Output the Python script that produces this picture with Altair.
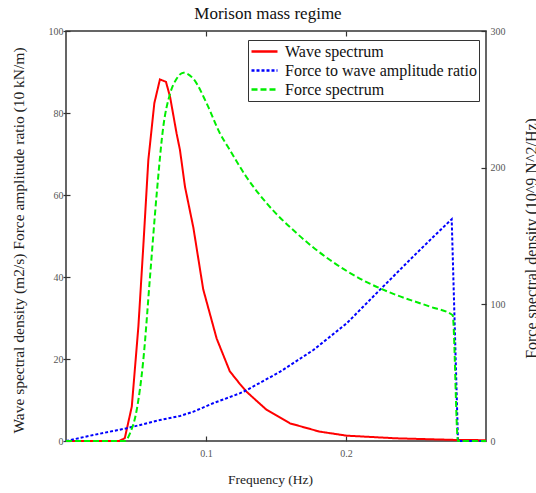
import altair as alt
import pandas as pd

FONT = "Liberation Serif"

# Wave spectrum (left axis, m2/s)
wave_f = [0, 0.038, 0.042, 0.047, 0.0517, 0.0552, 0.0588, 0.0631, 0.0671, 0.0714,
          0.0743, 0.079, 0.0814, 0.085, 0.091, 0.098, 0.1076, 0.117, 0.124, 0.129,
          0.1433, 0.16, 0.181, 0.2005, 0.236, 0.279, 0.3]
wave_v = [0, 0, 0.7, 8.4, 27.9, 47.4, 68.5, 82.4, 88.2, 87.6,
          84, 75, 71, 62, 52, 37, 25, 17, 14, 12,
          7.6, 4.3, 2.3, 1.3, 0.65, 0.25, 0.2]

# Force to wave amplitude ratio (left axis, 10 kN/m)
ratio_f = [0, 0.0195, 0.0433, 0.067, 0.0814, 0.091, 0.105, 0.124, 0.129, 0.153,
           0.1767, 0.2005, 0.224, 0.248, 0.2624, 0.2755, 0.28, 0.3]
ratio_v = [0, 1.46, 3.1, 5.1, 6.1, 7.15, 9.2, 11.6, 12.4, 16.9,
           22.2, 28.7, 36.8, 45, 49.8, 54.1, 0, 0]

# Force spectrum (right axis, 10^9 N^2/Hz)
force_f = [0, 0.042, 0.0457, 0.0505, 0.0552, 0.06, 0.0648, 0.0695, 0.0743, 0.079,
           0.0838, 0.091, 0.1005, 0.11, 0.117, 0.129, 0.1433, 0.1648, 0.1886, 0.2119,
           0.236, 0.26, 0.2762, 0.28, 0.3]
force_v = [0, 0, 5.6, 22.7, 59, 120, 181, 230, 254, 265,
           269.5, 265, 247, 225, 213, 193, 174, 152, 132.4, 117.8,
           106.8, 98.3, 92, 0, 0]

series_names = ["Wave spectrum", "Force to wave amplitude ratio", "Force spectrum"]
series_colors = ["#ff0000", "#0000ff", "#00ee00"]
series_dashes = [[1, 0], [3, 2], [6, 3]]

left_df = pd.concat([
    pd.DataFrame({"f": wave_f, "v": wave_v, "series": series_names[0], "o": range(len(wave_f))}),
    pd.DataFrame({"f": ratio_f, "v": ratio_v, "series": series_names[1], "o": range(len(ratio_f))}),
])
right_df = pd.DataFrame({"f": force_f, "v": force_v, "series": series_names[2], "o": range(len(force_f))})

xdom = [0, 0.3]

color = alt.Color("series:N", scale=alt.Scale(domain=series_names, range=series_colors),
                  legend=alt.Legend(title=None))
dash = alt.StrokeDash("series:N", scale=alt.Scale(domain=series_names, range=series_dashes),
                      legend=alt.Legend(title=None))

left = alt.Chart(left_df).mark_line(strokeWidth=2).encode(
    x=alt.X("f:Q", scale=alt.Scale(domain=xdom, nice=False),
            axis=alt.Axis(orient="bottom", values=[0.1, 0.2], title="Frequency (Hz)",
                          offset=-5, tickSize=5, domain=False, labelPadding=7,
                          titlePadding=14, grid=False, titleX=204, titleAlign="center")),
    y=alt.Y("v:Q", scale=alt.Scale(domain=[0, 100], nice=False),
            axis=alt.Axis(orient="left", values=[0, 20, 40, 60, 80, 100],
                          title="Wave spectral density (m2/s) Force amplitude ratio (10 kN/m)",
                          offset=-4, tickSize=7, domain=False, labelPadding=0, grid=False,
                          titleFontSize=15.5,
                          titleAngle=270, titleX=-52, titleY=209, titleAlign="center",
                          titleBaseline="middle")),
    color=color,
    strokeDash=dash,
    order="o:Q",
)

right = alt.Chart(right_df).mark_line(strokeWidth=2, interpolate="monotone").encode(
    x=alt.X("f:Q", scale=alt.Scale(domain=xdom, nice=False), axis=None),
    y=alt.Y("v:Q", scale=alt.Scale(domain=[0, 300], nice=False),
            axis=alt.Axis(orient="right", values=[0, 100, 200, 300],
                          title="Force spectral density (10^9 N^2/Hz)",
                          offset=-5, tickSize=5, domain=False, labelPadding=4, grid=False,
                          titleFontSize=16,
                          titleAngle=270, titleX=50, titleY=207, titleAlign="center",
                          titleBaseline="middle")),
    color=color,
    strokeDash=dash,
    order="o:Q",
)

top = alt.Chart(right_df).mark_line(opacity=0).encode(
    x=alt.X("f:Q", scale=alt.Scale(domain=xdom, nice=False),
            axis=alt.Axis(orient="top", values=[0.1, 0.2], labels=False, title=None,
                          offset=-5, tickSize=5, domain=False, grid=False)),
    y=alt.Y("v:Q", scale=alt.Scale(domain=[0, 300], nice=False), axis=None),
)

chart = alt.layer(left, right, top).resolve_scale(
    y="independent", x="independent"
).properties(
    width=420,
    height=410,
    autosize=alt.AutoSizeParams(type="none"),
    padding={"left": 66, "top": 31, "right": 50, "bottom": 52},
    title=alt.TitleParams("Morison mass regime", font=FONT, fontSize=17,
                          fontWeight="normal", color="#111", offset=3, anchor="middle", dx=-8),
).configure(
    background="white",
).configure_view(
    stroke="#333", strokeWidth=1.5,
).configure_axis(
    labelFont=FONT, labelFontSize=10, labelColor="#555",
    titleFont=FONT, titleFontSize=13.5, titleFontWeight="normal", titleColor="#222",
    tickColor="#333", tickWidth=1.2,
).configure_legend(
    orient="none", legendX=182, legendY=9,
    fillColor="white", strokeColor="#333", padding=2,
    labelFont=FONT, labelFontSize=16, labelColor="#111", labelOffset=6,
    symbolType="M-1,0L1,0", symbolSize=676, symbolStrokeWidth=2.5, rowPadding=0,
    clipHeight=19, labelLimit=400,
)

chart.save("out.html", embed_options={"renderer": "svg", "actions": False})
